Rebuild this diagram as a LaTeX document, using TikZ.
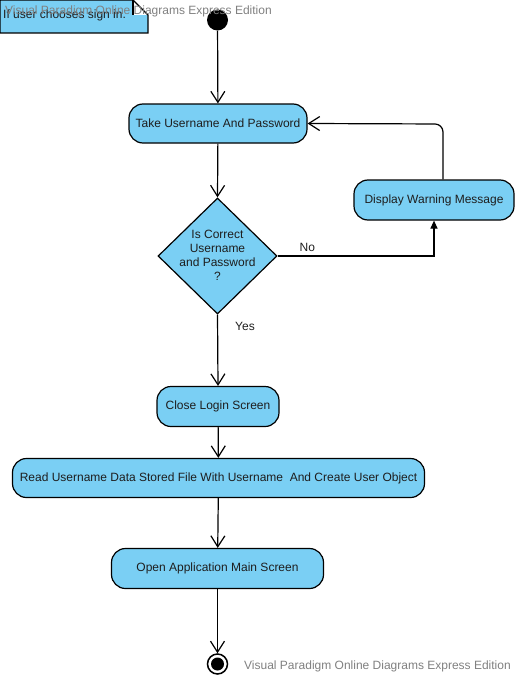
\documentclass[tikz,border=0pt]{standalone}
\usepackage{fontspec}
\setmainfont{Liberation Sans}
\usetikzlibrary{arrows.meta,shapes.geometric}
\definecolor{vpblue}{RGB}{122,207,244}
\definecolor{wmgray}{RGB}{128,128,128}
\definecolor{txt}{RGB}{30,30,30}
\begin{document}
\begin{tikzpicture}[x=1pt,y=-1pt,
  font=\fontsize{12}{14}\selectfont,
  act/.style={draw=black, line width=1.2pt, fill=vpblue, rounded corners=14pt,
    inner sep=0pt, text=txt},
  flow/.style={draw=black, line width=1.2pt,
    -{Straight Barb[length=11pt,width=14pt,line width=1.2pt]}},
  plainline/.style={draw=black, line width=1.2pt},
  lbl/.style={inner sep=0pt, text=txt},
  wm/.style={inner sep=0pt, text=wmgray, anchor=west},
]
\useasboundingbox (0,0) rectangle (516,677);

% note
\path[fill=vpblue] (0,0) -- (133,0) -- (148,15) -- (148,33) -- (0,33) -- cycle;
\path[fill=white] (133,0) -- (148,15) -- (133,15) -- cycle;
\draw[line width=1.2pt] (0,0) -- (133,0) -- (148,15) -- (148,33) -- (0,33) -- cycle;
\draw[line width=1.2pt] (133,0) -- (133,15);
\node[lbl, anchor=west] (note) at (3,15) {If user chooses sign in.};

% start
\node[circle, fill=black, minimum size=21pt, inner sep=0pt] (start) at (217.5,20) {};

% activities
\node[act, minimum width=178pt, minimum height=39pt] (take) at (218,123.5) {Take Username And Password};
\node[diamond, draw=black, line width=1.2pt, fill=vpblue, minimum width=119pt,
      minimum height=116pt, inner sep=0pt] (dec) at (217.5,256) {};
\node[lbl, align=center] (dectext) at (217.5,255) {Is Correct\\Username\\and Password\\?};
\node[act, minimum width=160pt, minimum height=40pt] (warn) at (434,200) {Display Warning Message};
\node[act, minimum width=122pt, minimum height=40pt] (close) at (218,406.5) {Close Login Screen};
\node[act, minimum width=412pt, minimum height=39pt] (read) at (218.5,478) {Read Username Data Stored File With Username\ \ And Create User Object};
\node[act, minimum width=212pt, minimum height=40pt] (open) at (217.5,568.5) {Open Application Main Screen};

% end
\node[circle, draw=black, line width=1.5pt, fill=white, minimum size=20pt, inner sep=0pt] (finish) at (217.5,664) {};
\node[circle, fill=black, minimum size=13pt, inner sep=0pt] (finishin) at (finish) {};

% connectors
\draw[flow] (start) -- (take);
\draw[flow] (take) -- (dec.north);
\draw[plainline, -{Triangle[length=8pt,width=7pt]}] (dec.east) -| (warn.south) node[pos=0.095, above=4pt, lbl] (no) {No};
\coordinate (wtop) at (443,124);
\draw[flow, rounded corners=8pt] (warn.north -| wtop) -- (wtop) -- (take.east);
\draw[flow] (dec.south) -- (close.north) node[pos=0.17, right=17pt, lbl] (yes) {Yes};
\draw[flow] (close) -- (read);
\draw[flow] (read) -- (open);
\draw[flow] (open) -- (finish);

% watermarks
\node[wm] (wm1) at (5,11) {Visual Paradigm Online Diagrams Express Edition};
\node[wm] (wm2) at (244,666) {Visual Paradigm Online Diagrams Express Edition};
\end{tikzpicture}
\end{document}
